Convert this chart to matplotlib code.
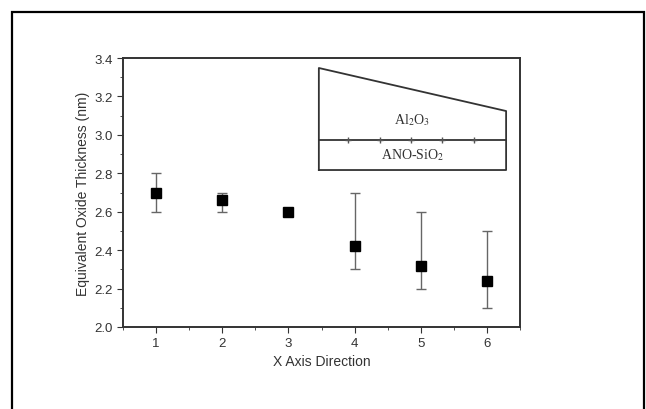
import numpy as np
import matplotlib.pyplot as plt
from matplotlib.patches import Rectangle

# data
positions = [1, 2, 3, 4, 5, 6]
eot = [2.70, 2.66, 2.60, 2.42, 2.32, 2.24]
err_low = [2.60, 2.60, 2.60, 2.30, 2.20, 2.10]
err_high = [2.80, 2.70, 2.60, 2.70, 2.60, 2.50]

plt.rcParams['font.family'] = ['Liberation Sans', 'DejaVu Sans']

fig = plt.figure(figsize=(6.46, 4.10), dpi=100)
fig.patches.append(Rectangle((12 / 646, -0.05), 632 / 646, 1.05 - 13 / 410,
                             transform=fig.transFigure, fill=False,
                             edgecolor='black', linewidth=1.6))

ax = fig.add_axes([123 / 646, 82 / 410, 397 / 646, 269 / 410])

lo = np.array(eot) - np.array(err_low)
hi = np.array(err_high) - np.array(eot)
ax.errorbar(positions, eot, yerr=[lo, hi], fmt='none', ecolor='#666666',
            elinewidth=1.0, capsize=3.5, capthick=1.0)
ax.plot(positions, eot, 's', color='black', markersize=6.5, zorder=5)

ax.set_xlim(0.5, 6.5)
ax.set_ylim(2.0, 3.4)
ax.set_xticks(positions)
ax.set_xticks(np.arange(0.5, 6.6, 0.5), minor=True)
ax.set_yticks(np.arange(2.0, 3.41, 0.2))
ax.set_yticks(np.arange(2.0, 3.41, 0.1), minor=True)
ax.yaxis.set_major_formatter(plt.FormatStrFormatter('%.1f'))
ax.tick_params(which='both', direction='out', top=False, right=False,
               labelsize=9.5, colors='#333333')
ax.tick_params(which='major', length=4)
ax.tick_params(which='minor', length=2)
for s in ax.spines.values():
    s.set_linewidth(1.4)
    s.set_color('#333333')

ax.set_xlabel('X Axis Direction', fontsize=10, color='#333333', labelpad=3)
ax.set_ylabel('Equivalent Oxide Thickness (nm)', fontsize=10, color='#333333', labelpad=3)

# inset schematic of the film stack
ax.plot([3.46, 3.46, 6.29, 6.29, 3.46], [2.817, 3.348, 3.124, 2.817, 2.817],
        color='#333333', linewidth=1.3)
ax.plot([3.46, 6.29], [2.973, 2.973], color='#333333', linewidth=1.3)
ax.plot([3.9, 4.38, 4.85, 5.32, 5.81], [2.973] * 5, '+', color='#555555',
        markersize=4)
ax.text(4.87, 3.08, r'Al$_2$O$_3$', family='Liberation Serif', fontsize=10,
        ha='center', va='center', color='#333333', math_fontfamily='stix')
ax.text(4.87, 2.90, r'ANO-SiO$_2$', family='Liberation Serif', fontsize=10,
        ha='center', va='center', color='#333333', math_fontfamily='stix')

fig.savefig('out.png', dpi=100)
